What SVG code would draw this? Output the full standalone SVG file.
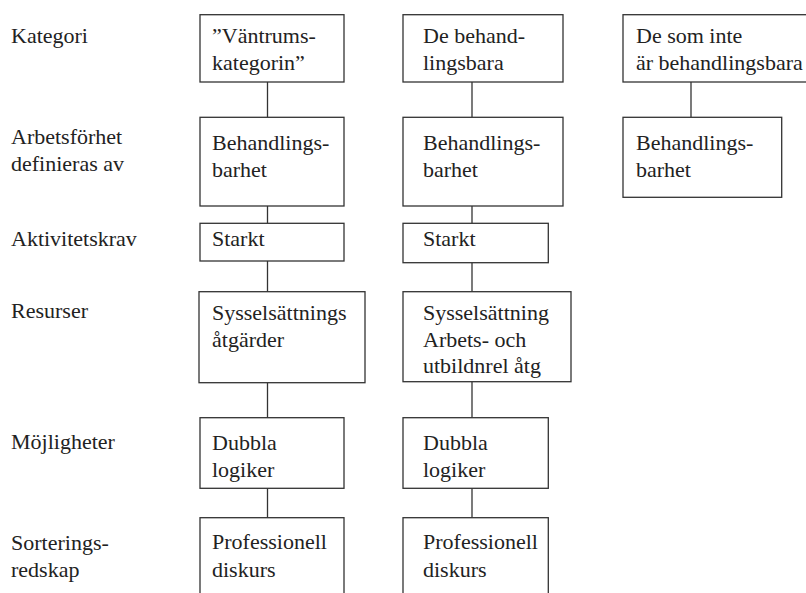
<svg xmlns="http://www.w3.org/2000/svg" width="806" height="593" viewBox="0 0 806 593">
<style>
text{font-size:22px;fill:#222}
rect.b{fill:#fff;stroke:#333;stroke-width:1.3}
line.c{stroke:#333;stroke-width:1.3}
</style>
<rect width="806" height="593" fill="#fff"/>
<g id="row-labels">
<text font-family="Liberation Serif" x="11" y="43">Kategori</text>
<text font-family="Liberation Serif" x="11" y="144">Arbetsf&#246;rhet</text>
<text font-family="Liberation Serif" x="11" y="171">definieras av</text>
<text font-family="Liberation Serif" x="11" y="246">Aktivitetskrav</text>
<text font-family="Liberation Serif" x="11" y="318">Resurser</text>
<text font-family="Liberation Serif" x="11" y="449">M&#246;jligheter</text>
<text font-family="Liberation Serif" x="11" y="550">Sorterings-</text>
<text font-family="Liberation Serif" x="11" y="577">redskap</text>
</g>
<g id="connectors">
<line class="c" x1="267.5" y1="82" x2="267.5" y2="117"/>
<line class="c" x1="267.5" y1="206" x2="267.5" y2="223"/>
<line class="c" x1="267.5" y1="261" x2="267.5" y2="292"/>
<line class="c" x1="267.5" y1="383" x2="267.5" y2="418"/>
<line class="c" x1="267.5" y1="488" x2="267.5" y2="518"/>
<line class="c" x1="472" y1="82" x2="472" y2="117"/>
<line class="c" x1="472" y1="206" x2="472" y2="223"/>
<line class="c" x1="472" y1="263" x2="472" y2="292"/>
<line class="c" x1="472" y1="382" x2="472" y2="418"/>
<line class="c" x1="472" y1="488" x2="472" y2="518"/>
<line class="c" x1="691" y1="82" x2="691" y2="117"/>
</g>
<g id="c1-kategori"><rect class="b" x="200" y="14.7" width="144" height="67.3"/><text font-family="Liberation Serif" x="212" y="43">&#8221;V&#228;ntrums-</text><text font-family="Liberation Serif" x="212" y="70">kategorin&#8221;</text></g>
<g id="c2-kategori"><rect class="b" x="403" y="14.7" width="160" height="67.3"/><text font-family="Liberation Serif" x="423" y="43">De behand-</text><text font-family="Liberation Serif" x="423" y="70">lingsbara</text></g>
<g id="c3-kategori"><rect class="b" x="623" y="14.7" width="200" height="67.3"/><text font-family="Liberation Serif" x="636" y="43">De som inte</text><text font-family="Liberation Serif" x="636" y="70">&#228;r behandlingsbara</text></g>
<g id="c1-arbetsforhet"><rect class="b" x="200" y="117.3" width="144" height="88.7"/><text font-family="Liberation Serif" x="212" y="150">Behandlings-</text><text font-family="Liberation Serif" x="212" y="177">barhet</text></g>
<g id="c2-arbetsforhet"><rect class="b" x="403" y="117.3" width="160" height="88.7"/><text font-family="Liberation Serif" x="423" y="150">Behandlings-</text><text font-family="Liberation Serif" x="423" y="177">barhet</text></g>
<g id="c3-arbetsforhet"><rect class="b" x="623" y="117.3" width="158.7" height="80"/><text font-family="Liberation Serif" x="636" y="150">Behandlings-</text><text font-family="Liberation Serif" x="636" y="177">barhet</text></g>
<g id="c1-aktivitet"><rect class="b" x="200" y="223.3" width="144" height="37.7"/><text font-family="Liberation Serif" x="212" y="246">Starkt</text></g>
<g id="c2-aktivitet"><rect class="b" x="403" y="223.3" width="145.3" height="39.4"/><text font-family="Liberation Serif" x="423" y="246">Starkt</text></g>
<g id="c1-resurser"><rect class="b" x="199" y="291.7" width="166" height="91"/><text font-family="Liberation Serif" x="212" y="320">Syssels&#228;ttnings</text><text font-family="Liberation Serif" x="212" y="347">&#229;tg&#228;rder</text></g>
<g id="c2-resurser"><rect class="b" x="403" y="291.7" width="168" height="90"/><text font-family="Liberation Serif" x="423" y="320">Syssels&#228;ttning</text><text font-family="Liberation Serif" x="423" y="347">Arbets- och</text><text font-family="Liberation Serif" x="423" y="373">utbildnrel &#229;tg</text></g>
<g id="c1-mojligheter"><rect class="b" x="200" y="417.7" width="144" height="70.6"/><text font-family="Liberation Serif" x="212" y="450">Dubbla</text><text font-family="Liberation Serif" x="212" y="477">logiker</text></g>
<g id="c2-mojligheter"><rect class="b" x="403" y="417.7" width="145.3" height="70.6"/><text font-family="Liberation Serif" x="423" y="450">Dubbla</text><text font-family="Liberation Serif" x="423" y="477">logiker</text></g>
<g id="c1-sortering"><rect class="b" x="200" y="517.7" width="144" height="90"/><text font-family="Liberation Serif" x="212" y="549">Professionell</text><text font-family="Liberation Serif" x="212" y="577">diskurs</text></g>
<g id="c2-sortering"><rect class="b" x="403" y="517.7" width="145.3" height="90"/><text font-family="Liberation Serif" x="423" y="549">Professionell</text><text font-family="Liberation Serif" x="423" y="577">diskurs</text></g>
</svg>
